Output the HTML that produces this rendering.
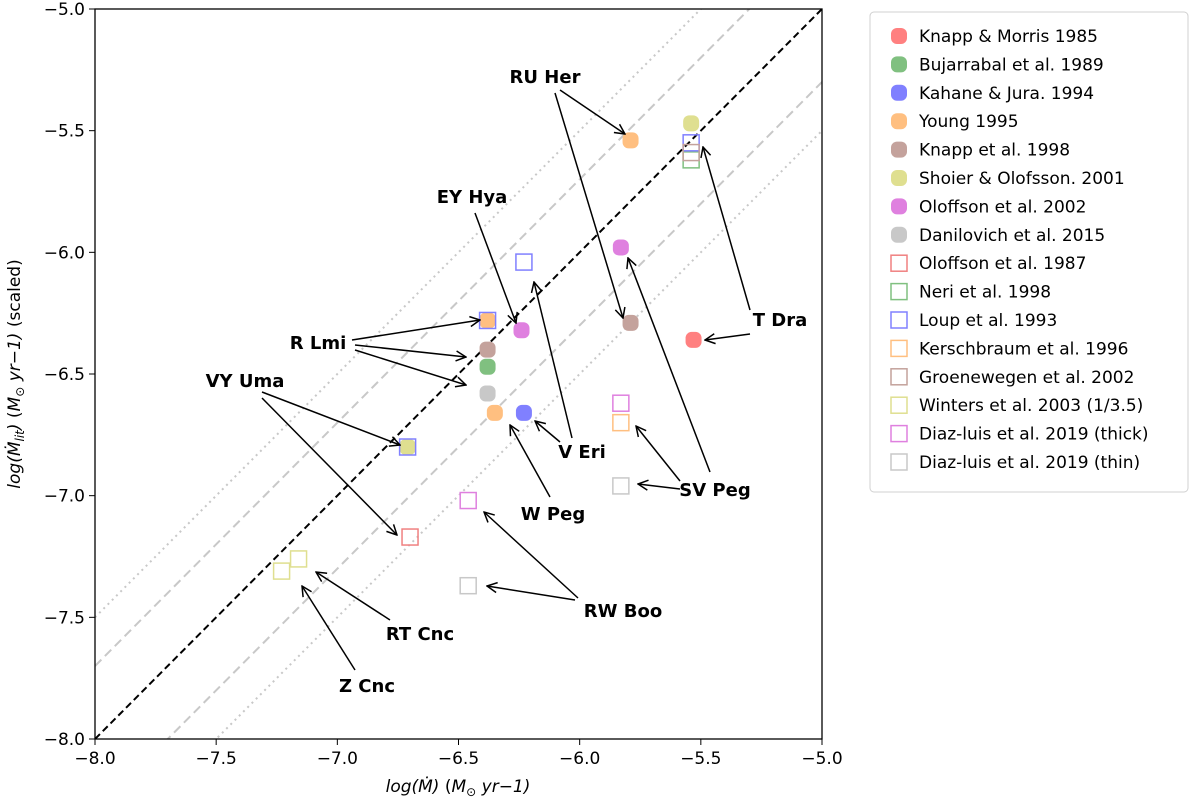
<!DOCTYPE html>
<html><head><meta charset="utf-8"><style>
html,body{margin:0;background:#fff;overflow:hidden;width:1200px;height:802px;}
svg{display:block;}
svg text{font-family:"DejaVu Sans","Liberation Sans",sans-serif;}
</style></head><body>
<svg id="chart" width="1200" height="802" viewBox="0 0 1200 802" xmlns="http://www.w3.org/2000/svg">
<defs>
<marker id="ah" viewBox="0 0 12 12" refX="11" refY="6" markerWidth="12" markerHeight="12" markerUnits="userSpaceOnUse" orient="auto"><polyline points="1,1 11,6 1,11" fill="none" stroke="#000" stroke-width="1.5"/></marker>
<clipPath id="clip"><rect x="95" y="9" width="727" height="730"/></clipPath>
</defs>
<g id="lines" clip-path="url(#clip)"></g>
<g id="marks"></g>
<g id="annots"></g>
<rect x="95" y="9" width="727" height="730" fill="none" stroke="#000" stroke-width="1.3"/>
<g id="axes"></g>
<text x="458" y="792" text-anchor="middle" font-size="17" font-style="italic">log(Ṁ) <tspan font-style="normal">(</tspan>M<tspan font-size="12" dy="4" font-style="normal">⊙</tspan><tspan dy="-4"> yr−1)</tspan></text>
<text transform="translate(20,374) rotate(-90)" text-anchor="middle" font-size="17" font-style="italic">log(Ṁ<tspan font-size="12" dy="4">lit</tspan><tspan dy="-4">) </tspan><tspan font-style="normal">(</tspan>M<tspan font-size="12" dy="4" font-style="normal">⊙</tspan><tspan dy="-4"> yr−1)   </tspan><tspan font-style="normal">(scaled)</tspan></text>
<g id="legend"></g>
</svg>
<script>
const xTicks=[-8.0,-7.5,-7.0,-6.5,-6.0,-5.5,-5.0];
const yTicks=[-8.0,-7.5,-7.0,-6.5,-6.0,-5.5,-5.0];
const seriesNames=["Knapp & Morris 1985","Bujarrabal et al. 1989","Kahane & Jura. 1994","Young 1995","Knapp et al. 1998","Shoier & Olofsson. 2001","Oloffson et al. 2002","Danilovich et al. 2015","Oloffson et al. 1987","Neri et al. 1998","Loup et al. 1993","Kerschbraum et al. 1996","Groenewegen et al. 2002","Winters et al. 2003 (1/3.5)","Diaz-luis et al. 2019 (thick)","Diaz-luis et al. 2019 (thin)"];
const seriesX=[[-5.53],[-6.38],[-6.23],[-5.79,-6.38,-6.35],[-6.38,-5.79],[-5.54,-6.71],[-6.24,-5.83],[-6.38],[-6.70],[-5.54],[-6.38,-6.23,-6.71,-5.54],[-5.83],[-5.54],[-7.23,-7.16],[-5.83,-6.46],[-5.83,-6.46]];
const seriesY=[[-6.36],[-6.47],[-6.66],[-5.54,-6.28,-6.66],[-6.40,-6.29],[-5.47,-6.80],[-6.32,-5.98],[-6.58],[-7.17],[-5.62],[-6.28,-6.04,-6.80,-5.55],[-6.70],[-5.59],[-7.31,-7.26],[-6.62,-7.02],[-6.96,-7.37]];
const colors=["#ff8080","#80c080","#8080ff","#ffbf80","#c4a29c","#dfdf90","#df80df","#c8c8c8","#f08080","#80c080","#8080ff","#ffbf80","#c4a29c","#dfdf90","#df80df","#c8c8c8"];
const isSquare=[0,0,0,0,0,0,0,0,1,1,1,1,1,1,1,1];
const offsets=[0,0.3,-0.3,0.5,-0.5];
const X=v=>95+(v+8)*727/3, Y=v=>9+(-5-v)*730/3;
const NS="http://www.w3.org/2000/svg";
function mk(p,t,a){const e=document.createElementNS(NS,t);for(const k in a)e.setAttribute(k,a[k]);p.appendChild(e);return e;}
const g=id=>document.getElementById(id);
offsets.forEach((o,i)=>{const l=mk(g('lines'),'line',{x1:X(-8),y1:Y(-8+o),x2:X(-5),y2:Y(-5+o),stroke:i==0?'#000':'#c8c8c8','stroke-width':2,'stroke-dasharray':i==0?'7,4':(i<3?'9,5':'2,4')});

});
xTicks.forEach(t=>{mk(g('axes'),'line',{x1:X(t),y1:739,x2:X(t),y2:745,stroke:'#000'});const e=mk(g('axes'),'text',{x:X(t),y:764,'text-anchor':'middle','font-size':17});e.textContent=t.toFixed(1).replace('-','−');

});
yTicks.forEach(t=>{mk(g('axes'),'line',{x1:89,y1:Y(t),x2:95,y2:Y(t),stroke:'#000'});const e=mk(g('axes'),'text',{x:85,y:Y(t)+6,'text-anchor':'end','font-size':17});e.textContent=t.toFixed(1).replace('-','−');

});
seriesX.forEach((xs,s)=>xs.forEach((x,i)=>{const y=seriesY[s][i];let e;
if(isSquare[s]) e=mk(g('marks'),'rect',{x:X(x)-8,y:Y(y)-8,width:16,height:16,fill:'none',stroke:colors[s],'stroke-width':1.5});
else e=mk(g('marks'),'rect',{x:X(x)-8,y:Y(y)-8,width:16,height:16,rx:6,fill:colors[s]});

}));
const annots=[["RU Her",545,83,[[560,90,625,134],[555,93,623,318]]],["EY Hya",472,203,[[475,213,516,323]]],["R Lmi",318,349,[[352,340,480,320],[355,345,466,357],[355,350,466,385]]],["VY Uma",245,387,[[262,392,400,445],[262,398,397,535]]],["T Dra",780,326,[[750,334,705,340],[750,310,703,147]]],["V Eri",582,458,[[572,438,534,282],[560,442,535,421]]],["W Peg",553,520,[[550,497,510,425]]],["SV Peg",715,496,[[680,489,638,484],[680,481,636,426],[710,472,628,258]]],["RW Boo",623,617,[[575,600,487,586],[578,598,484,512]]],["RT Cnc",420,640,[[390,620,316,572]]],["Z Cnc",367,692,[[355,670,302,586]]]];
annots.forEach(a=>{a[3].forEach(r=>{const l=mk(g('annots'),'line',{x1:r[0],y1:r[1],x2:r[2],y2:r[3],stroke:'#000','stroke-width':1.5,'marker-end':'url(#ah)'});

});
const t=mk(g('annots'),'text',{x:a[1],y:a[2],'text-anchor':'middle','font-size':18,'font-weight':'bold'});t.textContent=a[0];

});
const lb=mk(g('legend'),'rect',{x:870,y:12,width:318,height:480,rx:4,fill:'#fff',stroke:'#d0d0d0'});


seriesNames.forEach((n,s)=>{const y=36+s*28.4;
if(isSquare[s]) mk(g('legend'),'rect',{x:891,y:y-8,width:16,height:16,fill:'none',stroke:colors[s],'stroke-width':1.5});
else mk(g('legend'),'rect',{x:891,y:y-8,width:16,height:16,rx:6,fill:colors[s]});
const t=mk(g('legend'),'text',{x:919,y:y+6,'font-size':17});t.textContent=n;

});
</script>
</body></html>
